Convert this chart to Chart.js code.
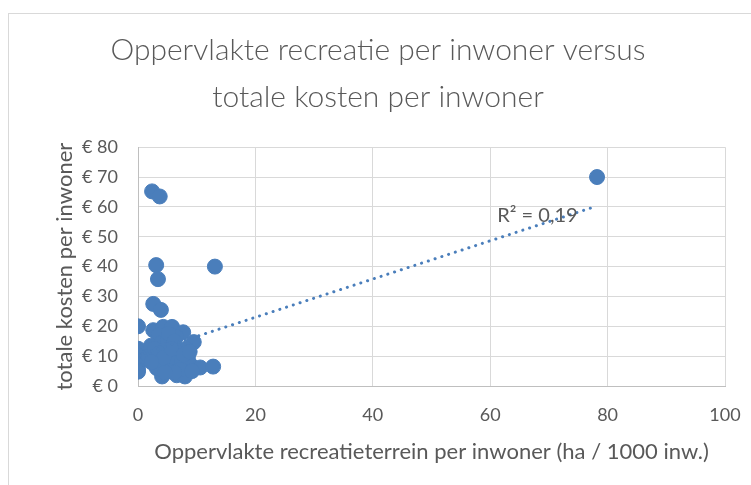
<!DOCTYPE html>
<html>
<head>
<meta charset="utf-8">
<script src="https://cdn.jsdelivr.net/npm/chart.js@4"></script>
<style>
  body { margin: 0; background: #fff; overflow: hidden; }
  #wrap { position: relative; width: 751px; height: 485px; }
  #frame { position: absolute; left: 8px; top: 13px; width: 800px; height: 600px; border: 1px solid #d9d9d9; pointer-events: none; }
</style>
</head>
<body>
<div id="wrap">
  <canvas id="scatterChart" width="751" height="485"></canvas>
  <div id="frame"></div>
</div>
<script>
// DATA

const areaPerInhabitant = [
  78.2, 2.4, 3.7, 13.1, 3.1, 3.4, 2.6, 3.9, 0, 0,
  0, 0, 0, 0, 0, 2.6, 4.3, 5.8, 3.5, 7.7,
  6.5, 9.5, 8.2, 2.2, 2.5, 3, 1.8, 4, 5, 6,
  7, 4.5, 5.5, 6.5, 3.8, 4.8, 6, 7.5, 8.5, 9,
  10.6, 12.8, 4.1, 6.6, 8, 5.3, 7.2, 3.2, 2.8, 5.2,
  6.2, 3.6, 4.4, 5.7, 7.8, 8.8, 6.2, 4.6, 9.2, 2.3,
];
const costPerInhabitant = [
  70, 65.2, 63.5, 40, 40.5, 35.8, 27.5, 25.5, 20, 12.5,
  10.2, 8.5, 7, 5.5, 4.8, 18.7, 19.8, 19.8, 17, 18,
  16.5, 14.7, 12.5, 13.5, 11, 9.5, 10, 14.5, 15.5, 13.5,
  11, 12, 10.5, 9, 8, 7, 7.5, 8.5, 9.5, 7,
  6.2, 6.5, 3.2, 3.6, 3.2, 5, 5.5, 6, 12.5, 17.5,
  15, 11, 9.5, 12.5, 10.5, 11.5, 4.5, 4.5, 5, 8,
];

// trendline end points
const trendX = [0, 78.2];
const trendY = [10.2, 60.3];
const rSquaredLabel = "R² = 0,19";

const xTicks = [0, 20, 40, 60, 80, 100];
const yTicks = [0, 10, 20, 30, 40, 50, 60, 70, 80];

const points = areaPerInhabitant.map((x, i) => ({ x: x, y: costPerInhabitant[i] }));
const trend = trendX.map((x, i) => ({ x: x, y: trendY[i] }));

const blue = "#4a7ebb";
const textGray = "#595959";

Chart.defaults.font.family = "Lato";

// R² label next to the trendline
const rSquaredPlugin = {
  id: "rSquared",
  afterDatasetsDraw(chart) {
    const ctx = chart.ctx;
    const px = chart.scales.x.getPixelForValue(61.2);
    const py = chart.scales.y.getPixelForValue(57);
    ctx.save();
    ctx.font = "20px Lato";
    ctx.fillStyle = textGray;
    ctx.textBaseline = "middle";
    ctx.fillText(rSquaredLabel, px, py);
    ctx.restore();
  },
};

const ctx = document.getElementById("scatterChart");

new Chart(ctx, {
  type: "scatter",
  data: {
    datasets: [
      {
        label: "trend",
        type: "line",
        data: trend,
        borderColor: blue,
        borderWidth: 3,
        borderDash: [0.1, 7],
        borderCapStyle: "round",
        pointRadius: 0,
        fill: false,
      },
      {
        label: "gemeenten",
        data: points,
        backgroundColor: blue,
        borderColor: blue,
        borderWidth: 1,
        pointRadius: 7.5,
      },
    ],
  },
  options: {
    responsive: false,
    animation: false,
    layout: { padding: { left: 31, right: 26, top: 0, bottom: 20 } },
    plugins: {
      legend: { display: false },
      tooltip: { enabled: false },
      title: {
        display: true,
        text: ["Oppervlakte recreatie per inwoner versus", "totale kosten per inwoner"],
        color: textGray,
        font: { size: 30, weight: 300, lineHeight: 1.57 },
        padding: { top: 27, bottom: 26 },
      },
    },
    scales: {
      x: {
        type: "linear",
        min: 0,
        max: 100,
        afterBuildTicks: (scale) => { scale.ticks = xTicks.map((v) => ({ value: v })); },
        afterFit: (scale) => {
          scale.height = 79;
          scale.paddingRight = 0;
          scale.paddingLeft = 0;
        },
        grid: { color: "#d9d9d9", drawTicks: false },
        border: { color: "#bfbfbf" },
        ticks: { color: textGray, padding: 18, font: { size: 18 } },
        title: {
          display: true,
          text: "Oppervlakte recreatieterrein per inwoner (ha / 1000 inw.)",
          color: textGray,
          font: { size: 22, lineHeight: 1.2 },
          padding: { top: 0, bottom: 0 },
        },
      },
      y: {
        type: "linear",
        min: 0,
        max: 80,
        afterBuildTicks: (scale) => { scale.ticks = yTicks.map((v) => ({ value: v })); },
        afterFit: (scale) => { scale.width = 107; },
        grid: { color: "#d9d9d9", drawTicks: false },
        border: { color: "#bfbfbf" },
        ticks: {
          color: textGray,
          padding: 20,
          font: { size: 18 },
          callback: (v) => "€ " + v,
        },
        title: {
          display: true,
          text: "totale kosten per inwoner",
          color: textGray,
          font: { size: 22, lineHeight: 1.2 },
          padding: { top: 21, bottom: 0 },
        },
      },
    },
  },
  plugins: [rSquaredPlugin],
});
</script>
</body>
</html>
